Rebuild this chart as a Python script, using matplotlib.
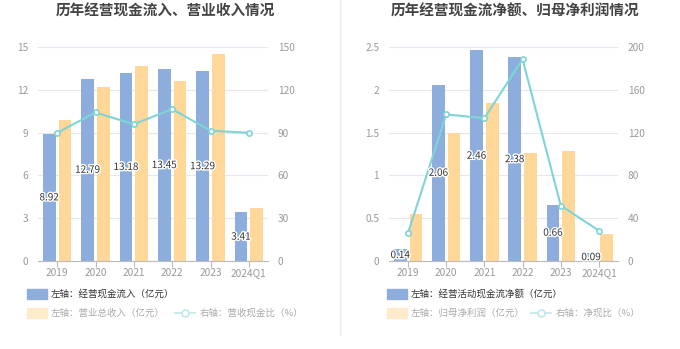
import matplotlib
matplotlib.use("Agg")
import matplotlib.pyplot as plt
import matplotlib.patheffects as pe
from matplotlib.patches import Rectangle
from matplotlib.lines import Line2D
import numpy as np

plt.rcParams['font.family'] = ['Noto Sans CJK SC', 'DejaVu Sans']

categories = ['2019', '2020', '2021', '2022', '2023', '2024Q1']

# chart 1
cash_in = [8.92, 12.79, 13.18, 13.45, 13.29, 3.41]
revenue = [9.9, 12.22, 13.67, 12.59, 14.53, 3.74]
cash_ratio = [89.9, 104.1, 95.9, 106.5, 91.3, 89.9]

# chart 2
net_cash = [0.14, 2.06, 2.46, 2.38, 0.66, 0.09]
net_profit = [0.55, 1.50, 1.845, 1.256, 1.287, 0.316]
net_ratio = [26.2, 137.0, 133.5, 188.5, 51.8, 28.4]

BLUE = '#8DAEDC'
ORANGE = '#FFD899'
ORANGE_LEG = '#FFEACB'
CYAN = '#7FD4D6'
GRID = '#E3E8F1'
TICK = '#999999'
stroke = [pe.withStroke(linewidth=2, foreground='white')]


def draw(ax, blue, orange, line, ylim, yticks, ylabels, rlim, rticks):
    x = np.arange(len(categories))
    w = 0.33
    ax.bar(x - 0.205, blue, width=w, color=BLUE, zorder=2)
    ax.bar(x + 0.205, orange, width=w, color=ORANGE, zorder=2)
    ax.set_xlim(-0.5, len(categories) - 0.5)
    ax.set_ylim(*ylim)
    ax.set_yticks(yticks)
    ax.set_yticklabels(ylabels)
    ax.set_xticks(x)
    ax.set_xticklabels(categories)
    ax.grid(axis='y', color=GRID, linewidth=0.8, zorder=0)
    for s in ['top', 'right', 'left']:
        ax.spines[s].set_visible(False)
    ax.spines['bottom'].set_color('#BBBBBB')
    ax.tick_params(axis='x', colors='#BBBBBB', length=4, width=0.8, labelcolor=TICK, labelsize=7.3, pad=1)
    ax.tick_params(axis='y', length=0, labelcolor=TICK, labelsize=7.3, pad=7)

    ax2 = ax.twinx()
    ax2.plot(x, line, color=CYAN, linewidth=1.5, marker='o', markersize=3.8,
             markerfacecolor='white', markeredgecolor=CYAN, markeredgewidth=1.2, zorder=4)
    ax2.set_ylim(*rlim)
    ax2.set_yticks(rticks)
    for s in ['top', 'right', 'left', 'bottom']:
        ax2.spines[s].set_visible(False)
    ax2.tick_params(axis='y', length=0, labelcolor=TICK, labelsize=7.3, pad=7)

    # value labels at half bar height, drawn on the top axes
    for xi, v in zip(x, blue):
        ax2.text(xi - 0.205, v / 2 / ylim[1] * rlim[1], f'{v:.2f}', ha='center', va='center',
                 fontsize=7.2, color='#333333', zorder=10, path_effects=stroke)
    return ax2


fig = plt.figure(figsize=(6.8, 3.49), dpi=100)

ax1 = fig.add_axes([38 / 680, 88 / 349, 230 / 680, 214 / 349])
draw(ax1, cash_in, revenue, cash_ratio, (0, 15), [0, 3, 6, 9, 12, 15],
     ['0', '3', '6', '9', '12', '15'], (0, 150), [0, 30, 60, 90, 120, 150])

ax2 = fig.add_axes([389 / 680, 88 / 349, 229 / 680, 214 / 349])
draw(ax2, net_cash, net_profit, net_ratio, (0, 2.5), [0, 0.5, 1, 1.5, 2, 2.5],
     ['0', '0.5', '1', '1.5', '2', '2.5'], (0, 200), [0, 40, 80, 120, 160, 200])

fig.text(165 / 680, 1 - 11 / 349, '历年经营现金流入、营业收入情况', ha='center', va='center',
         fontsize=10.5, fontweight='bold', color='#444444')
fig.text(515 / 680, 1 - 11 / 349, '历年经营现金流净额、归母净利润情况', ha='center', va='center',
         fontsize=10.5, fontweight='bold', color='#444444')

# separator
fig.add_artist(Line2D([340 / 680, 340 / 680], [1 - 335 / 349, 1.0], color='#EEEEEE', linewidth=1))


def legend(x0, blue_txt, orange_txt, line_txt, line_x):
    H = 349.0
    W = 680.0
    y1 = 294
    y2 = 313
    fig.add_artist(Rectangle((x0 / W, 1 - (y1 + 5) / H), 20 / W, 10 / H, color=BLUE,
                             transform=fig.transFigure))
    fig.text((x0 + 24) / W, 1 - y1 / H, blue_txt, ha='left', va='center', fontsize=6.8, color='#333333')
    fig.add_artist(Rectangle((x0 / W, 1 - (y2 + 5) / H), 20 / W, 10 / H, color=ORANGE_LEG,
                             transform=fig.transFigure))
    fig.text((x0 + 24) / W, 1 - y2 / H, orange_txt, ha='left', va='center', fontsize=6.8, color='#AAAAAA')
    fig.add_artist(Line2D([line_x / W, (line_x + 20) / W], [1 - y2 / H, 1 - y2 / H], color='#BDE9EA',
                          linewidth=1.2))
    fig.add_artist(Line2D([(line_x + 10) / W], [1 - y2 / H], marker='o', markersize=5,
                          markerfacecolor='white', markeredgecolor='#BDE9EA', markeredgewidth=1.2))
    fig.text((line_x + 25) / W, 1 - y2 / H, line_txt, ha='left', va='center', fontsize=6.8, color='#AAAAAA')


legend(27, '左轴：经营现金流入（亿元）', '左轴：营业总收入（亿元）', '右轴：营收现金比（%）', 175)
legend(387, '左轴：经营活动现金流净额（亿元）', '左轴：归母净利润（亿元）', '右轴：净现比（%）', 531)

fig.savefig('out.png', dpi=100)
